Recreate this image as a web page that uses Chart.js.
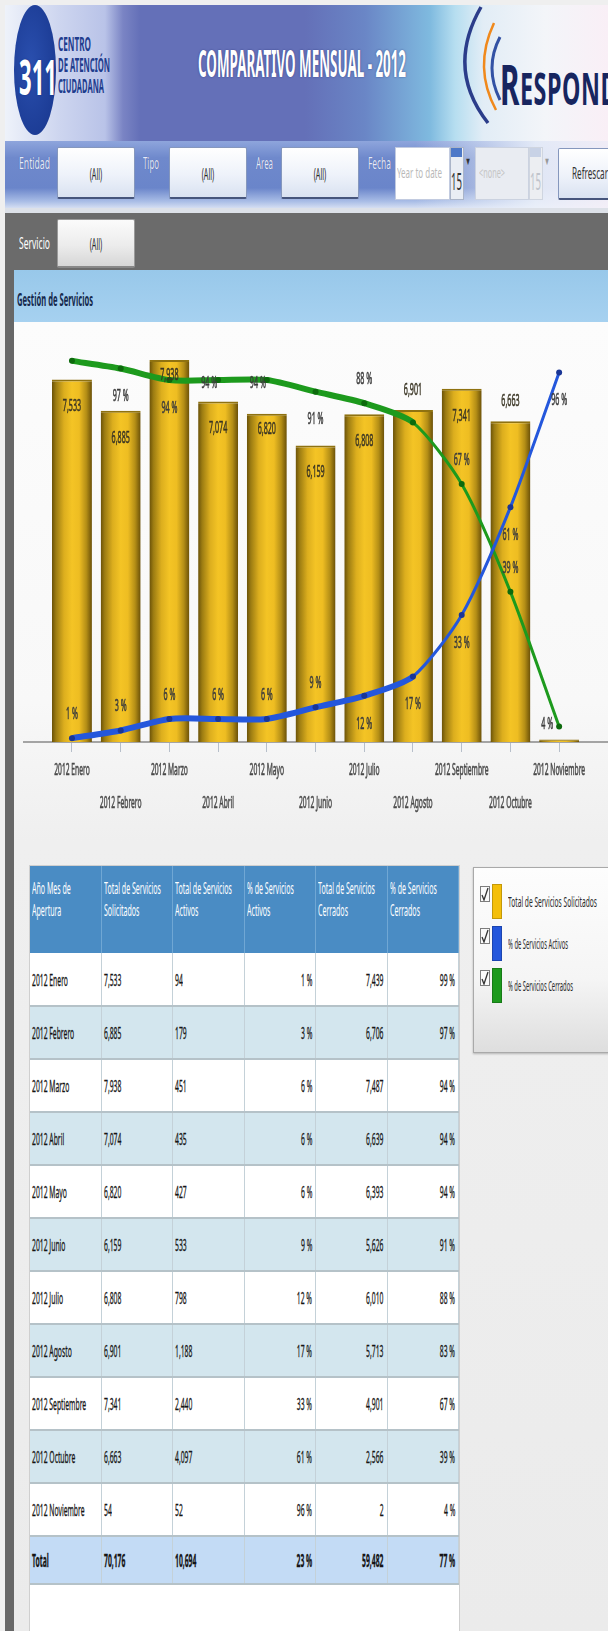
<!DOCTYPE html>
<html>
<head>
<meta charset="utf-8">
<script src="https://cdn.jsdelivr.net/npm/chart.js@4.4.1/dist/chart.umd.min.js"></script>
<style>
body{margin:0;width:608px;height:1631px;background:#efefef;position:relative;overflow:hidden;font-family:"Noto Sans",sans-serif}
.abs{position:absolute}
.fit{position:absolute;display:inline-block;white-space:nowrap;transform-origin:left center;line-height:1}
.sq{display:inline-block;white-space:nowrap;transform:scaleX(.4);transform-origin:left center}
#banner{left:5px;top:5px;width:603px;height:136px;overflow:hidden;
 background:linear-gradient(to right,#eef2fa 0,#cdd5ef 55px,#b9c3e8 100px,#7a84c4 118px,#6470b8 135px,#6470b8 300px,#6a86c6 360px,#7fbadf 425px,#b6def0 450px,#e2edf6 478px,#f3f5f9 540px,#f9eff6 603px)}
#filtros{left:5px;top:141px;width:603px;height:67px;overflow:hidden;
 background:linear-gradient(to right,rgba(236,241,250,0) 0,rgba(236,241,250,0) 68%,rgba(236,241,250,.9) 88%,rgba(245,240,248,.95) 100%),linear-gradient(#8ea5dc,#6f89cc 25%,#6a85ca 70%,#a9bde6 90%,#d4def2)}
.lbl{color:#e4eafa;font-size:16px;text-shadow:0 0 1px #3a4e90}
.btn{position:absolute;top:6px;height:49px;border:1px solid #8597bd;border-bottom:2px solid #46557c;border-radius:2px;
 background:linear-gradient(#ffffff,#eef2fa 55%,#d9e2f1);overflow:hidden}
.btn span{position:absolute;top:50%;left:50%;transform:translate(-50%,-50%) scaleX(.42);font-size:17px;color:#2a2a2a;white-space:nowrap}
#tabla{left:30px;top:866px;width:429px;height:765px;background:#fff;box-shadow:0 0 0 1px #cfcfcf}
#tabla table{border-collapse:collapse;width:429px;table-layout:fixed}
#tabla th{background:#4a8cc4;color:#fff;font-weight:normal;vertical-align:top;text-align:left;padding:11px 0 0 2px;font-size:16px;line-height:22px;border-right:1px solid #70a7d4;overflow:hidden}
#tabla th .sq{transform:scaleX(.44)}
#tabla tr.h{height:87px}
#tabla tr.d{height:53px}
#tabla tr.t{height:48px;background:#c3dbf5;font-weight:bold}
#tabla tr.alt{background:#d3e6ee}
#tabla td{padding:0 3px 0 2px;font-size:17px;color:#141414;-webkit-text-stroke:.3px #141414;border-right:1px solid #c4d1d8;border-bottom:2px solid #b5c2c8;overflow:hidden;white-space:nowrap}
#tabla td.r{text-align:right}
#tabla td.r .sq{transform-origin:right center}
#leyenda{left:473px;top:867px;width:134px;height:184px;border:1px solid #a9a9a9;background:linear-gradient(#fdfdfd,#f5f5f5 60%,#dedede);box-shadow:0 1px 2px rgba(0,0,0,.25)}
.chk{position:absolute;left:6px;width:8px;height:14px;border:1px solid #7d7d7d;background:#fafafa}
.sw{position:absolute;left:18px;width:10px;height:35px}
</style>
</head>
<body>

<div id="banner" class="abs">
  <div class="abs" style="left:9px;top:0;width:42px;height:130px;border-radius:50%;background:radial-gradient(ellipse at 40% 45%,#2a4fae,#17358c)"></div>
  <span class="fit" data-w="38" style="left:14px;top:48px;font-size:48px;font-weight:bold;color:#fff;text-shadow:0 0 2px #0d2a78">311</span>
  <span class="fit" data-w="33" style="left:53px;top:30px;font-size:19px;font-weight:bold;color:#1f3d8e">CENTRO</span>
  <span class="fit" data-w="52" style="left:53px;top:51px;font-size:19px;font-weight:bold;color:#1f3d8e">DE ATENCIÓN</span>
  <span class="fit" data-w="46" style="left:53px;top:72px;font-size:19px;font-weight:bold;color:#1f3d8e">CIUDADANA</span>
  <span class="fit" data-w="208" style="left:193px;top:38px;font-size:38px;font-weight:bold;color:#fff;text-shadow:0 0 3px rgba(30,40,110,.7)">COMPARATIVO MENSUAL - 2012</span>
  <svg class="abs" style="left:450px;top:0" width="60" height="136">
    <path d="M26 2 Q-9.5 64 33 118" stroke="#2b3d8a" stroke-width="3.5" fill="none"/>
    <path d="M39 18 Q18 62.5 41 105" stroke="#f0891c" stroke-width="2.5" fill="none"/>
    <path d="M45 32 Q29 62.5 45 95" stroke="#3352a4" stroke-width="3" fill="none"/>
  </svg>
  <span class="fit" data-w="118" style="left:495px;top:50px;font-weight:bold;color:#17255f;letter-spacing:1px"><span style="font-size:56px">R</span><span style="font-size:44px">ESPOND</span></span>
</div>

<div id="filtros" class="abs">
  <span class="fit lbl" data-w="31" style="left:14px;top:14px">Entidad</span>
  <div class="btn" style="left:52px;width:76px"><span>(All)</span></div>
  <span class="fit lbl" data-w="16" style="left:138px;top:14px">Tipo</span>
  <div class="btn" style="left:164px;width:76px"><span>(All)</span></div>
  <span class="fit lbl" data-w="17" style="left:251px;top:14px">Area</span>
  <div class="btn" style="left:276px;width:76px"><span>(All)</span></div>
  <span class="fit lbl" data-w="23" style="left:363px;top:14px">Fecha</span>
  <div class="abs" style="left:390px;top:6px;width:53px;height:51px;background:#fff;border:1px solid #c2cbe0"></div>
  <span class="fit" data-w="45" style="left:392px;top:24px;font-size:15px;color:#b9b9b9">Year to date</span>
  <div class="abs" style="left:445px;top:6px;width:12px;height:51px;background:#e9edf4;border:1px solid #aab4c8"></div>
  <div class="abs" style="left:446px;top:7px;width:11px;height:9px;background:#4d78c8"></div>
  <span class="fit" data-w="11" style="left:446px;top:28px;font-size:24px;color:#333">15</span>
  <span class="fit" data-w="6" style="left:460px;top:14px;font-size:11px;color:#333">▼</span>
  <div class="abs" style="left:470px;top:6px;width:52px;height:51px;background:#e9ecf2;border:1px solid #cbd2e0"></div>
  <span class="fit" data-w="26" style="left:474px;top:24px;font-size:15px;color:#c4c4c4">&lt;none&gt;</span>
  <div class="abs" style="left:524px;top:6px;width:12px;height:51px;background:#eceef2;border:1px solid #cfd5e0"></div>
  <div class="abs" style="left:525px;top:7px;width:11px;height:9px;background:#c8d2e6"></div>
  <span class="fit" data-w="11" style="left:525px;top:28px;font-size:24px;color:#c0c4cc">15</span>
  <span class="fit" data-w="6" style="left:539px;top:14px;font-size:11px;color:#999">▼</span>
  <div class="btn" style="left:553px;top:7px;width:70px"></div>
  <span class="fit" data-w="36" style="left:567px;top:24px;font-size:16px;color:#333">Refrescar</span>
</div>

<div class="abs" style="left:5px;top:208px;width:603px;height:5px;background:#dde1e8"></div>
<div class="abs" style="left:5px;top:213px;width:603px;height:57px;background:#6b6b6b"></div>
<span class="fit" data-w="31" style="left:19px;top:234px;font-size:17px;color:#fff">Servicio</span>
<div class="btn" style="left:57px;top:219px;width:76px;height:46px;border-color:#9a9a9a;border-bottom-color:#888;background:linear-gradient(#fbfbfb,#ececec 55%,#d6d6d6)"><span>(All)</span></div>

<div class="abs" style="left:5px;top:270px;width:9px;height:1361px;background:#676767"></div>
<div class="abs" style="left:14px;top:270px;width:594px;height:52px;background:linear-gradient(#98c8ea,#a6d1f0)"></div>
<span class="fit" data-w="76" style="left:17px;top:291px;font-size:17px;font-weight:bold;color:#15294c">Gestión de Servicios</span>
<div class="abs" style="left:14px;top:322px;width:594px;height:1309px;background:linear-gradient(#fcfcfc 0,#f8f8f8 380px,#efefef 520px,#ebebeb 100%)"></div>

<div class="abs" style="left:14px;top:322px;width:594px;height:512px">
  <canvas id="grafico"></canvas>
</div>

<div id="tabla" class="abs"></div>

<div id="leyenda" class="abs"></div>

<script>
const meses = ['2012 Enero', '2012 Febrero', '2012 Marzo', '2012 Abril', '2012 Mayo', '2012 Junio',
  '2012 Julio', '2012 Agosto', '2012 Septiembre', '2012 Octubre', '2012 Noviembre'];
const solicitados = [7533, 6885, 7938, 7074, 6820, 6159, 6808, 6901, 7341, 6663, 54];
const activos = [94, 179, 451, 435, 427, 533, 798, 1188, 2440, 4097, 52];
const pctActivos = [1, 3, 6, 6, 6, 9, 12, 17, 33, 61, 96];
const cerrados = [7439, 6706, 7487, 6639, 6393, 5626, 6010, 5713, 4901, 2566, 2];
const pctCerrados = [99, 97, 94, 94, 94, 91, 88, 83, 67, 39, 4];
const totales = ['Total', '70,176', '10,694', '23 %', '59,482', '77 %'];

const columnas = [['Año Mes de', 'Apertura'], ['Total de Servicios', 'Solicitados'], ['Total de Servicios', 'Activos'],
  ['% de Servicios', 'Activos'], ['Total de Servicios', 'Cerrados'], ['% de Servicios', 'Cerrados']];
const series = ['Total de Servicios Solicitados', '% de Servicios Activos', '% de Servicios Cerrados'];
const colores = ['#f4bf0a', '#2457dc', '#1d9a1d'];

// where the value labels sit in the screenshot (in/top = inside bar, up/down = above/below point)
const posSolicitados = ['in', 'in', 'top', 'in', 'top', 'in', 'in', 'up', 'in', 'up', '-'];
const posActivos = ['up', 'up', 'up', 'up', 'up', 'up', 'down', 'down', 'down', 'down', 'down'];
const posCerrados = ['-', 'down', 'down', 'on', 'on', 'down', 'up', '-', 'up', 'up', 'left'];

const fmt = n => n.toLocaleString('en-US');
const SQ = 0.42;

// ---- tabla
let html = '<table><tr class="h">';
columnas.forEach(c => { html += '<th><span class="sq">' + c[0] + '<br>' + c[1] + '</span></th>'; });
html += '</tr>';
meses.forEach((m, i) => {
	const fila = [m, fmt(solicitados[i]), fmt(activos[i]), pctActivos[i] + ' %', fmt(cerrados[i]), pctCerrados[i] + ' %'];
	html += '<tr class="d' + (i % 2 ? ' alt' : '') + '">';
	fila.forEach((v, j) => { html += '<td' + (j >= 3 ? ' class="r"' : '') + '><span class="sq">' + v + '</span></td>'; });
	html += '</tr>';
});
html += '<tr class="t">';
totales.forEach((v, j) => { html += '<td' + (j >= 3 ? ' class="r"' : '') + '><span class="sq">' + v + '</span></td>'; });
html += '</tr></table>';
document.getElementById('tabla').innerHTML = html;

// ---- leyenda
const ley = document.getElementById('leyenda');
const anchos = [89, 60, 65];
series.forEach((s, i) => {
	const y = 16 + i * 42;
	ley.insertAdjacentHTML('beforeend', `
		<div class="chk" style="top:${y + 2}px"><svg width="8" height="14" style="position:absolute;left:0;top:0"><path d="M1 8 L3 13 L7 1" stroke="#333" stroke-width="1.3" fill="none"/></svg></div>
		<div class="sw" style="top:${y}px;background:${colores[i]};box-shadow:inset 0 0 0 1px rgba(0,0,0,.2)"></div>
		<span class="fit" data-w="${anchos[i]}" style="left:34px;top:${y + 10}px;font-size:15px;color:#2a2a2a">${s}</span>`);
});

document.querySelectorAll('[data-w]').forEach(el => {
	const w = el.getBoundingClientRect().width;
	el.style.transform = 'scaleX(' + (+el.dataset.w / w) + ')';
});

// ---- grafico
function sqText(ctx, t, x, y, size, color) {
	ctx.save();
	ctx.translate(x, y);
	ctx.scale(SQ, 1);
	ctx.font = size + 'px "Noto Sans"';
	ctx.fillStyle = color;
	ctx.strokeStyle = color;
	ctx.lineWidth = 0.6;
	ctx.textAlign = 'center';
	ctx.textBaseline = 'middle';
	ctx.fillText(t, 0, 0);
	ctx.strokeText(t, 0, 0);
	ctx.restore();
}

const etiquetas = {
	id: 'etiquetas',
	beforeDatasetsDraw(chart) {
		const ctx = chart.ctx, a = chart.chartArea;
		ctx.save();
		ctx.strokeStyle = '#a4a4a4';
		ctx.lineWidth = 2;
		ctx.beginPath();
		ctx.moveTo(9, a.bottom);
		ctx.lineTo(chart.width, a.bottom);
		ctx.stroke();
		ctx.restore();
	},
	afterDatasetsDraw(chart) {
		const ctx = chart.ctx, a = chart.chartArea, xs = chart.scales.x;
		meses.forEach((m, i) => sqText(ctx, m, xs.getPixelForValue(i), a.bottom + (i % 2 ? 61 : 28), 16, '#4a4a4a'));

		chart.getDatasetMeta(0).data.forEach((b, i) => {
			const p = posSolicitados[i];
			if (p === '-') return;
			const dy = {in: 27, top: 15, up: -20}[p];
			sqText(ctx, fmt(solicitados[i]), b.x, b.y + dy, 17, '#3a3524');
		});
		const lineas = [[1, pctActivos, posActivos], [2, pctCerrados, posCerrados]];
		lineas.forEach(([idx, vals, pos]) => {
			chart.getDatasetMeta(idx).data.forEach((pt, i) => {
				const p = pos[i];
				if (p === '-') return;
				let dx = 0, dy = 0;
				if (p === 'up') dy = -24;
				if (p === 'down') dy = 28;
				if (p === 'on') { dx = -9; dy = 3; }
				if (p === 'left') { dx = -12; dy = -2; }
				sqText(ctx, vals[i] + ' %', pt.x + dx, pt.y + dy, 17, '#3c3c3c');
			});
		});
	}
};

const oro = function(c) {
	if (c.type !== 'data' || !c.chart.chartArea) return '#e0b020';
	const s = c.chart.scales.x;
	const cx = s.getPixelForValue(c.dataIndex);
	const hw = s.width / meses.length * 0.82 / 2;
	const g = c.chart.ctx.createLinearGradient(cx - hw, 0, cx + hw, 0);
	g.addColorStop(0, '#6a5108');
	g.addColorStop(0.1, '#9c7c12');
	g.addColorStop(0.3, '#dcae1e');
	g.addColorStop(0.5, '#f4c425');
	g.addColorStop(0.68, '#eebd22');
	g.addColorStop(0.86, '#b48e16');
	g.addColorStop(1, '#6a5008');
	return g;
};

const grosor = ctx => (ctx.p1DataIndex <= 7 ? 6 : 3);

new Chart(document.getElementById('grafico'), {
	type: 'bar',
	data: {
		labels: meses,
		datasets: [{
			label: series[0],
			data: solicitados,
			backgroundColor: oro,
			borderColor: '#8f7210',
			borderWidth: {top: 2, left: 0, right: 0, bottom: 0},
			borderSkipped: 'start',
			barPercentage: 0.82,
			categoryPercentage: 1,
			yAxisID: 'y',
			order: 3
		}, {
			type: 'line',
			label: series[1],
			data: pctActivos,
			borderColor: '#2457dc',
			borderWidth: 6,
			segment: {borderWidth: grosor},
			tension: 0.25,
			pointRadius: 3,
			pointBackgroundColor: '#1a3696',
			pointBorderWidth: 0,
			yAxisID: 'y1',
			order: 1
		}, {
			type: 'line',
			label: series[2],
			data: pctCerrados,
			borderColor: '#1d9a1d',
			borderWidth: 6,
			segment: {borderWidth: grosor},
			tension: 0.25,
			pointRadius: 3,
			pointBackgroundColor: '#0d6a0d',
			pointBorderWidth: 0,
			yAxisID: 'y1',
			order: 2
		}]
	},
	options: {
		responsive: true,
		maintainAspectRatio: false,
		animation: false,
		layout: {padding: {left: 33.6, right: 24.5, top: 35, bottom: 0}},
		plugins: {legend: {display: false}, tooltip: {enabled: false}},
		scales: {
			x: {
				offset: true,
				grid: {offset: false, drawOnChartArea: false, drawTicks: true, tickLength: 10, color: '#b7bfca'},
				border: {display: false},
				ticks: {display: false},
				afterFit: s => { s.height = 92; }
			},
			y: {display: false, min: 0, max: 8000},
			y1: {display: false, min: 0, max: 100}
		}
	},
	plugins: [etiquetas]
});
</script>
</body>
</html>
